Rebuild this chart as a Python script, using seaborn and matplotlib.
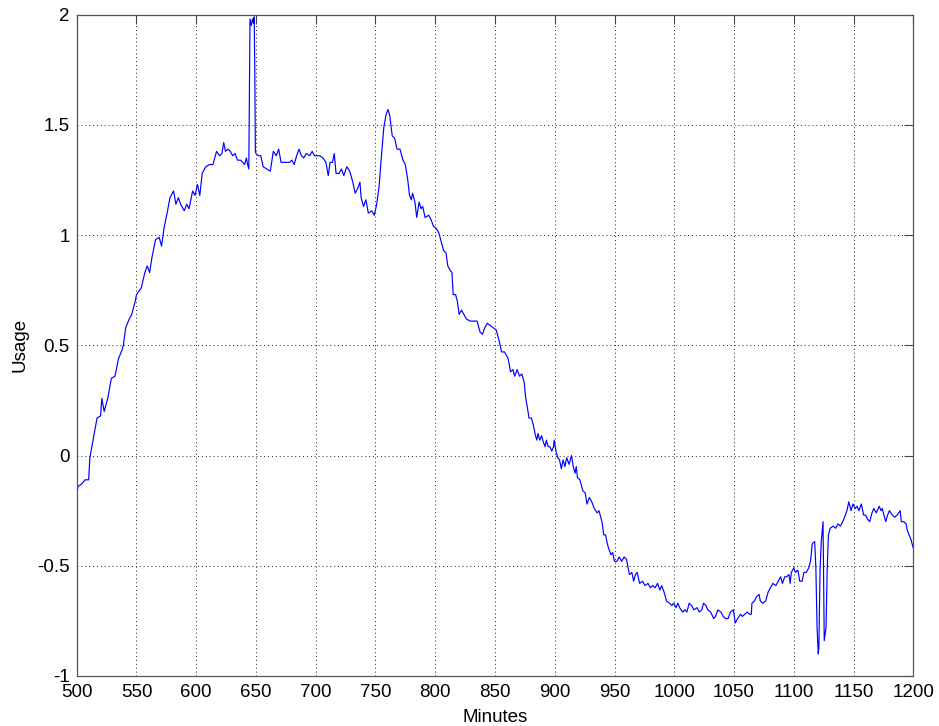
import matplotlib
matplotlib.use("Agg")
import matplotlib.pyplot as plt
import seaborn as sns
import pandas as pd

# Sampled usage trace (minute of day, usage level)
minutes = [
    500, 501, 504, 507, 510, 511, 514, 517, 520, 521, 523, 526, 529, 532, 535, 538, 539,
    541, 544, 546, 549, 550, 554, 557, 559, 561, 563, 566, 569, 571, 573, 576, 578, 581,
    583, 585, 587, 590, 592, 594, 597, 599, 601, 603, 605, 608, 611, 614, 617, 619.5,
    621.5, 623, 624.5, 626.5, 628.5, 630.5, 632.5, 634.5, 637, 639, 640.5, 642, 643, 644,
    644.5, 645, 646, 647, 648, 648.5, 649, 649.5, 650, 652, 654, 656, 659, 662, 664.5,
    667, 669, 671, 674, 678, 680, 682, 684, 686, 688, 690, 692, 695, 697, 699, 701, 703.5,
    706, 708.5, 710.5, 712, 714, 715.5, 717, 719.5, 721.5, 723.5, 726, 728.5, 731, 733,
    735, 737, 738, 740, 742, 744, 747, 749, 751, 753, 755, 757, 759, 760.5, 762, 764, 766,
    768, 770.5, 773, 775, 777, 778.5, 780, 781, 783, 784.5, 786.5, 788, 789.5, 791.5,
    794.5, 796.5, 798.5, 801, 803, 804.5, 807, 809, 810.5, 812.5, 814, 815, 817, 818.5,
    820, 822, 824, 826, 829, 832, 835, 837.5, 839.5, 841.5, 843.5, 846, 848.5, 851, 853.5,
    855.5, 858, 861, 863, 865, 866.5, 868.5, 870.5, 872.5, 874.5, 875.5, 877, 878.5,
    880.5, 882, 883.5, 885, 886, 887.5, 889, 890.5, 892, 893, 894.5, 896, 897.5, 899,
    899.5, 901, 902.5, 904, 905.5, 907, 908.5, 910, 912, 914, 915.5, 917, 918, 919, 921,
    923.5, 925.5, 927, 929, 931, 933, 935.5, 937, 938, 939.5, 941, 942.5, 944, 945, 947,
    948.5, 950, 952, 954, 956, 958, 960, 962.5, 964.5, 966, 967.5, 969, 971, 973.5, 975.5,
    978, 980, 982, 984, 986, 988, 989.5, 991.5, 993.5, 996, 998, 999.5, 1001.5, 1003,
    1004.5, 1007, 1009, 1010.5, 1012.5, 1014.5, 1016.5, 1019, 1021, 1023, 1024.5, 1026.5,
    1028, 1030.5, 1033, 1034.5, 1036.5, 1039, 1041, 1043, 1045, 1047, 1049.5, 1051, 1053,
    1055.5, 1057, 1059, 1061, 1063, 1064.5, 1065, 1067, 1069, 1071, 1072, 1074, 1076.5,
    1078.5, 1080.5, 1082.5, 1085, 1087, 1089, 1090.5, 1092.5, 1094, 1096, 1097, 1098,
    1100, 1101.5, 1103.5, 1105, 1107, 1108.5, 1110.5, 1112.5, 1114, 1115.5, 1117.5,
    1118.5, 1119.5, 1120.5, 1121, 1122, 1123, 1124.5, 1125.5, 1127, 1128, 1129, 1130.5,
    1133, 1135, 1137, 1139, 1141, 1142.5, 1144.5, 1146, 1148, 1149.5, 1151.5, 1153,
    1154.5, 1156.5, 1158.5, 1160, 1162, 1163.5, 1165.5, 1167, 1169, 1171.5, 1173, 1174,
    1175.5, 1177, 1178.5, 1180, 1182.5, 1184.5, 1186.5, 1189, 1190, 1192, 1194, 1195,
    1196.5, 1198, 1199.5, 1200,
]

usage = [
    -0.19, -0.14, -0.13, -0.11, -0.11, -0.01, 0.08, 0.17, 0.18, 0.26, 0.20, 0.26, 0.35, 0.36,
    0.44, 0.48, 0.50, 0.58, 0.62, 0.64, 0.70, 0.73, 0.76, 0.83, 0.86, 0.83, 0.90, 0.98, 0.99,
    0.95, 1.03, 1.11, 1.17, 1.20, 1.14, 1.17, 1.14, 1.11, 1.14, 1.12, 1.20, 1.18, 1.23, 1.18,
    1.28, 1.31, 1.32, 1.32, 1.38, 1.36, 1.37, 1.42, 1.38, 1.39, 1.38, 1.36, 1.37, 1.34, 1.34,
    1.33, 1.32, 1.35, 1.32, 1.30, 1.64, 1.98, 1.95, 1.98, 1.96, 1.99, 1.75, 1.38, 1.37, 1.36,
    1.36, 1.31, 1.30, 1.29, 1.38, 1.36, 1.39, 1.33, 1.33, 1.33, 1.34, 1.32, 1.36, 1.39, 1.36,
    1.35, 1.37, 1.36, 1.38, 1.36, 1.36, 1.36, 1.35, 1.33, 1.27, 1.33, 1.33, 1.37, 1.28, 1.28,
    1.30, 1.27, 1.31, 1.29, 1.24, 1.19, 1.21, 1.24, 1.17, 1.13, 1.16, 1.10, 1.11, 1.09, 1.14,
    1.22, 1.36, 1.49, 1.55, 1.57, 1.54, 1.45, 1.44, 1.39, 1.39, 1.34, 1.32, 1.25, 1.18, 1.16,
    1.19, 1.15, 1.08, 1.15, 1.12, 1.13, 1.08, 1.09, 1.07, 1.04, 1.03, 1.01, 0.98, 0.93, 0.92,
    0.86, 0.84, 0.83, 0.73, 0.73, 0.70, 0.64, 0.66, 0.64, 0.62, 0.61, 0.61, 0.61, 0.56, 0.55,
    0.58, 0.60, 0.59, 0.58, 0.57, 0.52, 0.47, 0.47, 0.44, 0.38, 0.39, 0.36, 0.39, 0.36, 0.37,
    0.33, 0.27, 0.22, 0.17, 0.17, 0.14, 0.10, 0.07, 0.10, 0.07, 0.09, 0.06, 0.04, 0.07, 0.04,
    0.04, 0.02, 0.04, 0.07, 0.02, -0.01, -0.02, -0.06, -0.02, -0.05, -0.01, -0.04, 0.00,
    -0.05, -0.08, -0.05, -0.10, -0.11, -0.16, -0.17, -0.22, -0.19, -0.21, -0.24, -0.26,
    -0.25, -0.27, -0.30, -0.36, -0.36, -0.40, -0.42, -0.45, -0.44, -0.48, -0.48, -0.46,
    -0.48, -0.46, -0.47, -0.54, -0.53, -0.57, -0.54, -0.53, -0.58, -0.57, -0.59, -0.58,
    -0.60, -0.59, -0.60, -0.58, -0.61, -0.59, -0.62, -0.66, -0.67, -0.68, -0.67, -0.69,
    -0.67, -0.69, -0.71, -0.70, -0.71, -0.67, -0.68, -0.70, -0.69, -0.71, -0.70, -0.67,
    -0.68, -0.70, -0.71, -0.74, -0.73, -0.70, -0.71, -0.73, -0.74, -0.74, -0.71, -0.70,
    -0.76, -0.74, -0.72, -0.73, -0.72, -0.71, -0.72, -0.72, -0.67, -0.66, -0.64, -0.63,
    -0.66, -0.67, -0.66, -0.62, -0.60, -0.58, -0.59, -0.57, -0.55, -0.58, -0.55, -0.55,
    -0.54, -0.58, -0.53, -0.51, -0.53, -0.52, -0.57, -0.57, -0.53, -0.53, -0.51, -0.48,
    -0.40, -0.39, -0.51, -0.78, -0.90, -0.87, -0.52, -0.39, -0.30, -0.84, -0.78, -0.51,
    -0.36, -0.33, -0.32, -0.33, -0.31, -0.32, -0.30, -0.28, -0.25, -0.21, -0.25, -0.22,
    -0.24, -0.23, -0.25, -0.22, -0.27, -0.27, -0.29, -0.30, -0.26, -0.24, -0.26, -0.23,
    -0.25, -0.24, -0.27, -0.30, -0.27, -0.25, -0.27, -0.28, -0.27, -0.25, -0.30, -0.30,
    -0.31, -0.34, -0.36, -0.38, -0.41, -0.42,
]

x_ticks = list(range(500, 1201, 50))
y_ticks = [-1, -0.5, 0, 0.5, 1, 1.5, 2]
y_tick_labels = ["-1", "-0.5", "0", "0.5", "1", "1.5", "2"]

sns.set_theme(style="white")
plt.rcParams["font.family"] = ["Liberation Sans", "DejaVu Sans"]

fig = plt.figure(figsize=(9.39, 7.26), dpi=100)
ax = fig.add_axes([0.0817, 0.0689, 0.8909, 0.9109])

df = pd.DataFrame({"Minutes": minutes, "Usage": usage})
sns.lineplot(data=df, x="Minutes", y="Usage", ax=ax, color="#0000ff",
             linewidth=0.85, sort=False, estimator=None)

ax.set_xlim(500, 1200)
ax.set_ylim(-1, 2)
ax.set_xticks(x_ticks)
ax.set_xticklabels([str(t) for t in x_ticks])
ax.set_yticks(y_ticks)
ax.set_yticklabels(y_tick_labels)

ax.grid(True, linestyle=(0, (1, 3)), color="#222222", linewidth=0.7)
ax.tick_params(direction="in", length=6.5, width=0.8, top=True, right=True,
               labelsize=13.5, colors="#444444", labelcolor="black", pad=5)
ax.tick_params(axis="x", pad=6)
for s in ax.spines.values():
    s.set_color("#555555")
    s.set_linewidth(0.9)

ax.set_xlabel("Minutes", fontsize=13.5, color="black")
ax.set_ylabel("Usage", fontsize=13.5, color="black")
ax.xaxis.set_label_coords(0.5, -0.050)
ax.yaxis.set_label_coords(-0.058, 0.5)

fig.savefig("out.png", dpi=100)
